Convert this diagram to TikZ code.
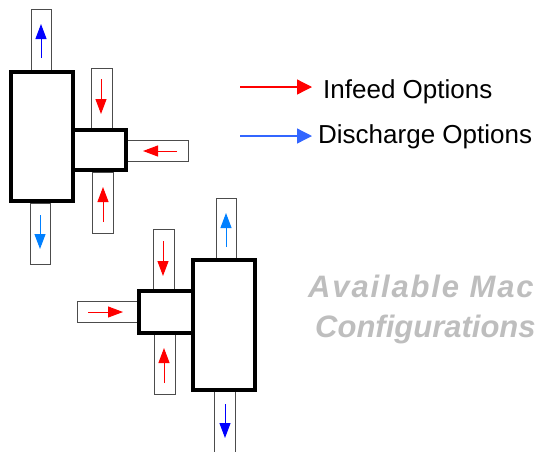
\documentclass[tikz,border=0pt]{standalone}
\usepackage{fontspec}
\setmainfont{Liberation Sans}
\usetikzlibrary{arrows.meta}
\definecolor{infeedred}{RGB}{255,0,0}
\definecolor{darkblue}{RGB}{0,0,255}
\definecolor{lightblue}{RGB}{0,128,255}
\definecolor{keyblue}{RGB}{51,102,255}
\definecolor{captiongray}{RGB}{190,190,190}

\begin{document}
\begin{tikzpicture}[x=1pt,y=-1pt]
    \tikzstyle{machine}=[draw=black,line width=4pt,fill=white,inner sep=0pt]
    \tikzstyle{chute}=[draw=black!70,line width=1pt,fill=white,inner sep=0pt]
    \tikzstyle{flow}=[line width=1pt,-{Triangle[length=15pt,width=11pt]}]
    \tikzstyle{key}=[line width=1.3pt,-{Triangle[length=15pt,width=15pt]}]
    \tikzstyle{label}=[anchor=base west,inner sep=0pt,font=\fontsize{26}{30}\selectfont]
    \tikzstyle{caption}=[anchor=base west,inner sep=0pt,text=captiongray]

    \useasboundingbox (0,0) rectangle (538,451);

    % first machine (upper left)
    \node[chute,minimum width=20pt,minimum height=61pt] at (41,39.5) (m1top) {};
    \node[chute,minimum width=20pt,minimum height=61pt] at (40,233.5) (m1bot) {};
    \node[chute,minimum width=21pt,minimum height=60pt] at (101.5,98) (m1intop) {};
    \node[chute,minimum width=21pt,minimum height=61pt] at (102.5,202.5) (m1inbot) {};
    \node[chute,minimum width=62pt,minimum height=21pt] at (157,150.5) (m1inside) {};
    \node[machine,minimum width=62pt,minimum height=129pt] at (42,136.5) (m1) {};
    \node[machine,minimum width=53pt,minimum height=40pt] at (99.5,150) (m1feed) {};

    \draw[flow,darkblue] (41,58) -- (41,24);
    \draw[flow,lightblue] (40,215) -- (40,249);
    \draw[flow,infeedred] (101,79) -- (101,114);
    \draw[flow,infeedred] (103,222) -- (103,187);
    \draw[flow,infeedred] (177,151) -- (143,151);

    % second machine (lower middle)
    \node[chute,minimum width=20pt,minimum height=62pt] at (226,229) (m2top) {};
    \node[chute,minimum width=21pt,minimum height=64pt] at (224.5,422) (m2bot) {};
    \node[chute,minimum width=21pt,minimum height=62pt] at (163.5,260) (m2intop) {};
    \node[chute,minimum width=21pt,minimum height=61pt] at (164.5,363.5) (m2inbot) {};
    \node[chute,minimum width=62pt,minimum height=21pt] at (108,311.5) (m2inside) {};
    \node[machine,minimum width=62pt,minimum height=130pt] at (224,325) (m2) {};
    \node[machine,minimum width=54pt,minimum height=42pt] at (166,312) (m2feed) {};

    \draw[flow,lightblue] (226,247) -- (226,213);
    \draw[flow,darkblue] (225,404) -- (225,438);
    \draw[flow,infeedred] (163,241) -- (163,276);
    \draw[flow,infeedred] (164,383) -- (164,348);
    \draw[flow,infeedred] (88,312) -- (123,312);

    % key
    \draw[key,infeedred] (240,87) -- (312,87);
    \node[label] at (323,98) (infeed) {Infeed Options};
    \draw[key,keyblue] (240,136) -- (312,136);
    \node[label] at (318,143.5) (discharge) {Discharge Options};

    \node[caption,font=\fontsize{31}{36}\selectfont\bfseries\itshape\addfontfeatures{LetterSpace=6}] at (308,297) (avail) {Available Mac};
    \node[caption,font=\fontsize{31}{36}\selectfont\bfseries\itshape] at (315,337) (config) {Configurations};
\end{tikzpicture}
\end{document}
